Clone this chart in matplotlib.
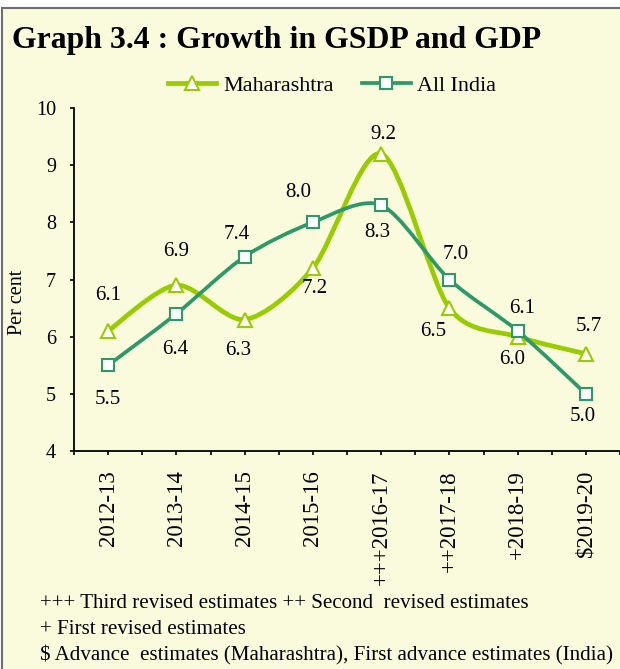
import numpy as np
import matplotlib.pyplot as plt
from matplotlib.path import Path
from matplotlib.patches import PathPatch, Rectangle
from matplotlib.lines import Line2D

years = ['2012-13', '2013-14', '2014-15', '2015-16', '+++2016-17', '++2017-18', '+2018-19', '$2019-20']
maharashtra = [6.1, 6.9, 6.3, 7.2, 9.2, 6.5, 6.0, 5.7]
all_india = [5.5, 6.4, 7.4, 8.0, 8.3, 7.0, 6.1, 5.0]

notes = ['+++ Third revised estimates ++ Second  revised estimates',
         '+ First revised estimates',
         '$ Advance  estimates (Maharashtra), First advance estimates (India)']

bg = '#FAFADC'
c_mah = '#99CC00'
c_ind = '#2E9968'
serif = ['Liberation Serif', 'DejaVu Serif']
plt.rcParams['font.family'] = serif


def smooth_path(x, y):
    # excel-like smoothed line: cubic bezier through each point
    pts = np.column_stack([x, y]).astype(float)
    n = len(pts)
    verts = [pts[0]]
    codes = [Path.MOVETO]
    for i in range(n - 1):
        p0 = pts[max(i - 1, 0)]
        p1 = pts[i]
        p2 = pts[i + 1]
        p3 = pts[min(i + 2, n - 1)]
        verts += [p1 + (p2 - p0) / 7, p2 - (p3 - p1) / 7, p2]
        codes += [Path.CURVE4] * 3
    return Path(verts, codes)


fig = plt.figure(figsize=(6.2, 6.69), dpi=100, facecolor='white')
fig.patches.append(Rectangle((1.5 / 620, -0.05), 2, (669 - 7.5) / 669 + 0.05,
                             transform=fig.transFigure, facecolor=bg,
                             edgecolor='#6E6E6E', lw=1.5, zorder=-10))

ax = fig.add_axes([74 / 620, 1 - 451 / 669, 546 / 620, 343 / 669])
ax.set_facecolor('none')

x = np.arange(len(years))
ax.add_patch(PathPatch(smooth_path(x, maharashtra), fill=False, edgecolor=c_mah,
                       lw=3.4, capstyle='round', joinstyle='round', zorder=2))
ax.add_patch(PathPatch(smooth_path(x, all_india), fill=False, edgecolor=c_ind,
                       lw=2.7, capstyle='round', joinstyle='round', zorder=3))
ax.plot(x, maharashtra, ls='none', marker='^', ms=9.5, mfc='white', mec=c_mah, mew=1.5, zorder=4)
ax.plot(x, all_india, ls='none', marker='s', ms=8.5, mfc='white', mec=c_ind, mew=1.5, zorder=5)

# label offsets in pixels (dx, dy; dy positive = down)
mah_off = [(0, 35), (0, 34), (-6, -31), (2, -20), (2, 19), (-16, -23), (-5, -23), (3, 27)]
ind_off = [(0, -34), (-1, -36), (-8, 22), (-15, 30), (-4, -27), (6, 25), (4, 22), (-3, -23)]
for xi, v, (dx, dy) in zip(x, maharashtra, mah_off):
    ax.annotate(f'{v:.1f}', (xi, v), xytext=(dx * 0.72, dy * 0.72), textcoords='offset points',
                ha='center', va='center', fontsize=15, zorder=6)
for xi, v, (dx, dy) in zip(x, all_india, ind_off):
    ax.annotate(f'{v:.1f}', (xi, v), xytext=(dx * 0.72, dy * 0.72), textcoords='offset points',
                ha='center', va='center', fontsize=15, zorder=6)

ax.set_xlim(-0.5, len(years) - 0.5)
ax.set_ylim(4, 10)
ax.set_yticks(range(4, 11))
ax.set_xticks(x)
ax.set_xticks(np.arange(-0.5, len(years)), minor=True)
ax.set_xticklabels(years, rotation=90, va='top', ha='center', fontsize=16.5)
ax.tick_params(axis='y', labelsize=14.5, length=3, width=1.2, pad=10, direction='out')
ax.tick_params(axis='x', which='both', length=3, width=1.2, pad=11, direction='out')
for s in ['top', 'right']:
    ax.spines[s].set_visible(False)
for s in ['left', 'bottom']:
    ax.spines[s].set_linewidth(1.3)

fig.text(18 / 620, 1 - 302 / 669, 'Per cent', rotation=90, ha='center', va='center', fontsize=14.5)

fig.text(12 / 620, 1 - 48 / 669, 'Graph 3.4 : Growth in GSDP and GDP', fontsize=22.9,
         fontweight='bold', ha='left', va='baseline')

handles = [Line2D([], [], color=c_mah, lw=3.4, marker='^', ms=9.5, mfc='white', mec=c_mah, mew=1.5),
           Line2D([], [], color=c_ind, lw=2.7, marker='s', ms=8.5, mfc='white', mec=c_ind, mew=1.5)]
fig.legend(handles, ['Maharashtra', 'All India'], loc='center', bbox_to_anchor=(332 / 620, 1 - 86 / 669),
           ncol=2, frameon=False, fontsize=15.9, handlelength=2.2, handletextpad=0.3,
           columnspacing=1.3)

for note, yy in zip(notes, [603, 630, 655]):
    fig.text(40 / 620, 1 - yy / 669, note, ha='left', va='center', fontsize=15.1)

fig.savefig('out.png', dpi=100, facecolor='white')
